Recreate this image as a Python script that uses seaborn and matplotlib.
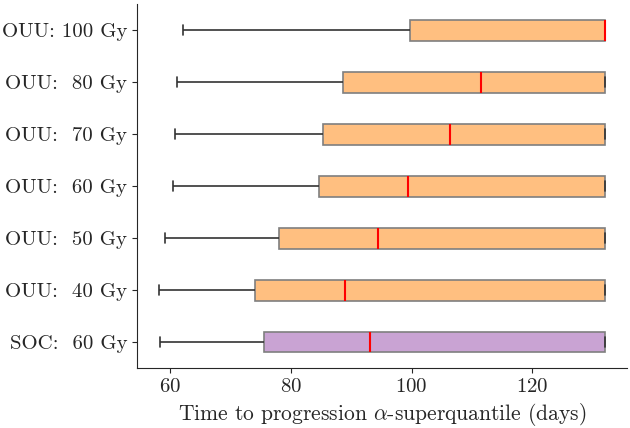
import numpy as np
import pandas as pd
import matplotlib
matplotlib.use("Agg")
import matplotlib.pyplot as plt
import seaborn as sns

# five-number summaries: min, q1, median, q3, max
labels = ["OUU: 100 Gy", "OUU:  80 Gy", "OUU:  70 Gy", "OUU:  60 Gy",
          "OUU:  50 Gy", "OUU:  40 Gy", "SOC:  60 Gy"]
mins = [62.2, 61.2, 60.8, 60.5, 59.2, 58.2, 58.3]
q1s = [99.8, 88.7, 85.4, 84.7, 78.1, 74.1, 75.6]
medians = [132.0, 111.6, 106.3, 99.5, 94.4, 88.9, 93.2]
q3s = [132.0, 132.0, 132.0, 132.0, 132.0, 132.0, 132.0]
maxs = [132.0, 132.0, 132.0, 132.0, 132.0, 132.0, 132.0]
colors = ["#ffbf80"] * 6 + ["#c9a3d3"]

rows = []
for lab, a, b, c, d, e in zip(labels, mins, q1s, medians, q3s, maxs):
    for v in (a, b, c, d, e):
        rows.append({"plan": lab, "days": v})
df = pd.DataFrame(rows)

sns.set_style("ticks")
plt.rcParams["font.family"] = "serif"
plt.rcParams["font.serif"] = ["cmr10", "DejaVu Serif"]
plt.rcParams["mathtext.fontset"] = "cm"
plt.rcParams["axes.formatter.use_mathtext"] = True

fig, ax = plt.subplots(figsize=(6.3, 4.28), dpi=100)
sns.boxplot(data=df, x="days", y="plan", hue="plan", order=labels,
            palette=colors, saturation=1, legend=False, whis=np.inf, width=0.4,
            linecolor="#333333", linewidth=1.2,
            boxprops=dict(edgecolor="#7f7f7f"),
            medianprops=dict(color="red", linewidth=1.5), ax=ax)
sns.despine(ax=ax)
ax.set_ylabel("")
ax.set_xlabel(r"Time to progression $\alpha$-superquantile (days)", fontsize=15.5)
ax.set_xticks([60, 80, 100, 120])
ax.tick_params(axis="both", labelsize=15)
fig.subplots_adjust(left=0.2175, right=0.995, top=0.99, bottom=0.14)
fig.savefig("out.png")
